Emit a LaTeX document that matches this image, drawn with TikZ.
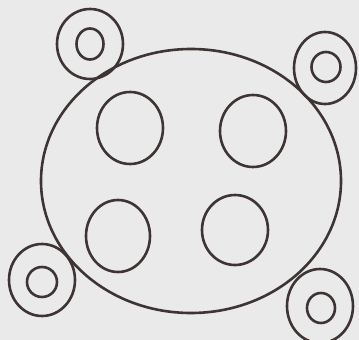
\documentclass[tikz,border=0pt]{standalone}
\definecolor{bgc}{RGB}{234,234,234}
\definecolor{inkc}{RGB}{62,52,52}
\tikzset{ink/.style={draw=inkc,line width=2.6pt}}
\begin{document}
\begin{tikzpicture}[x=1pt,y=-1pt]
\fill[bgc] (0,0) rectangle (359,340);
\useasboundingbox (0,0) rectangle (359,340);
% big body
\draw[ink] (191,181) ellipse [x radius=150, y radius=132];
% inner circles
\draw[ink] (130,128) ellipse [x radius=33, y radius=36];
\draw[ink] (253,131) ellipse [x radius=33, y radius=36];
\draw[ink] (118,236) ellipse [x radius=32, y radius=36];
\draw[ink] (235,230) ellipse [x radius=33, y radius=35];
% corner rings
\draw[ink] (90,44) ellipse [x radius=33, y radius=35];
\draw[ink] (90,44) ellipse [x radius=13.5, y radius=15.5];
\draw[ink] (325,68) ellipse [x radius=31, y radius=36];
\draw[ink] (326,67) ellipse [x radius=14.5, y radius=15];
\draw[ink] (42,280) ellipse [x radius=33, y radius=36];
\draw[ink] (42,282) ellipse [x radius=15, y radius=15];
\draw[ink] (320,306) ellipse [x radius=33, y radius=37];
\draw[ink] (321,308) ellipse [x radius=14, y radius=15];
\end{tikzpicture}
\end{document}
